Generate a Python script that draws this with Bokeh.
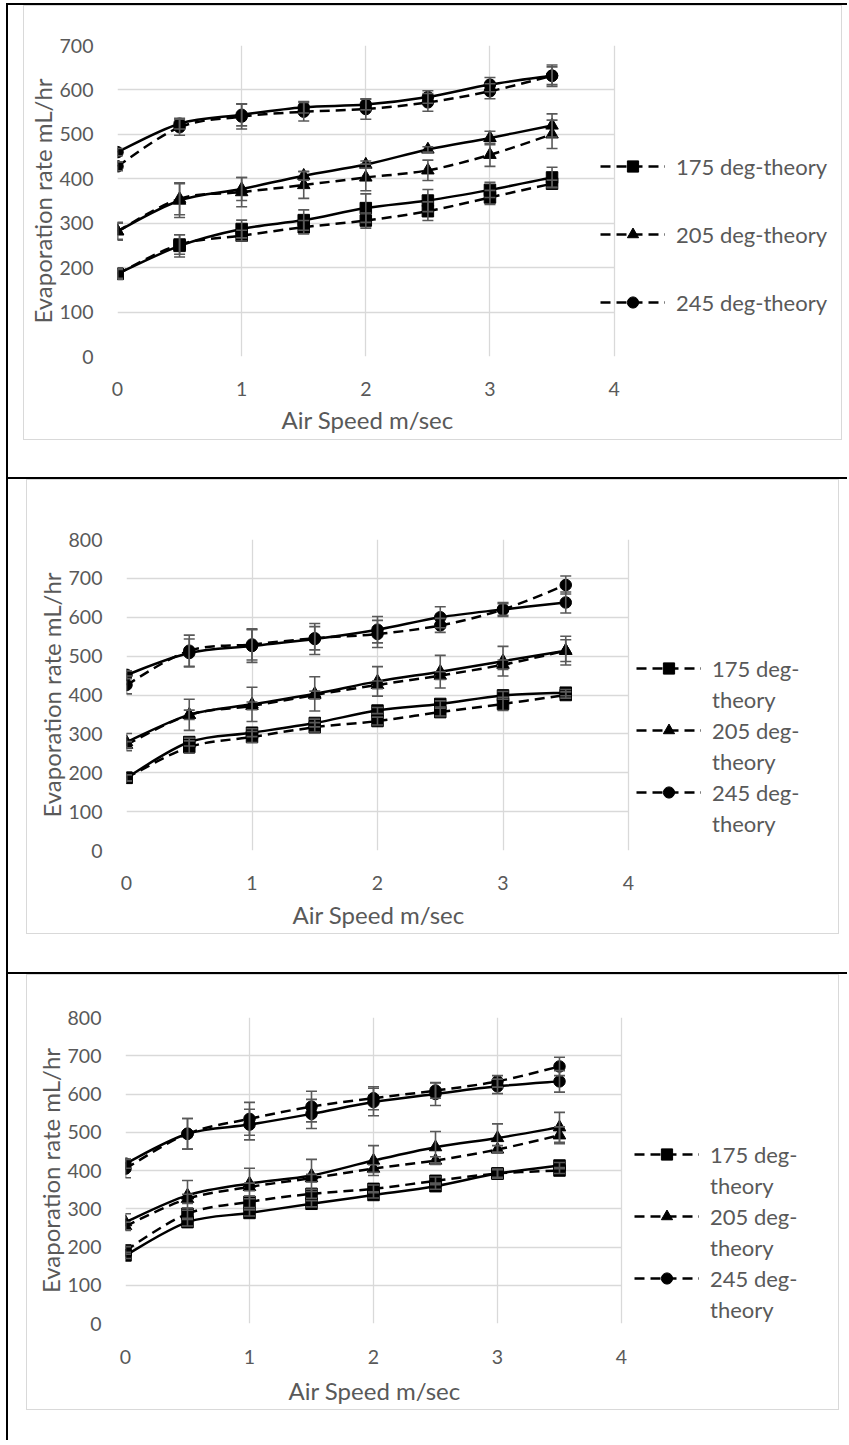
from bokeh.plotting import figure
from bokeh.models import (Range1d, FixedTicker, Legend, LegendItem, Whisker, TeeHead,
                          ColumnDataSource, Column, Title)
from bokeh.embed import file_html
from bokeh.resources import INLINE

# ---------------- data ----------------
speed = [0, 0.5, 1, 1.5, 2, 2.5, 3, 3.5]
x_ticks = [0, 1, 2, 3, 4]
x_max = 4
y_max = [700, 800, 800]
x_title = "Air Speed m/sec"
y_title = "Evaporation rate mL/hr"
legend_labels = [
    [["175 deg-theory"], ["205 deg-theory"], ["245 deg-theory"]],
    [["175 deg-", "theory"], ["205 deg-", "theory"], ["245 deg-", "theory"]],
    [["175 deg-", "theory"], ["205 deg-", "theory"], ["245 deg-", "theory"]],
]

# panel 1
p1_175_exp = [186, 249, 287, 307, 334, 351, 375, 403]
p1_175_thy = [186, 252, 272, 291, 306, 327, 358, 389]
p1_205_exp = [282, 351, 377, 407, 432, 466, 492, 520]
p1_205_thy = [282, 355, 370, 386, 403, 419, 454, 500]
p1_245_exp = [460, 524, 544, 561, 567, 584, 612, 632]
p1_245_thy = [428, 516, 540, 551, 557, 572, 597, 632]
p1_175_exp_err = [12, 25, 20, 23, 32, 25, 17, 23]
p1_175_thy_err = [10, 22, 12, 15, 17, 21, 16, 8]
p1_205_exp_err = [20, 38, 26, 10, 8, 6, 15, 26]
p1_205_thy_err = [18, 36, 33, 30, 30, 23, 26, 32]
p1_245_exp_err = [8, 12, 25, 13, 12, 14, 16, 24]
p1_245_thy_err = [10, 18, 28, 21, 23, 20, 17, 20]

# panel 2
p2_175_exp = [187, 279, 303, 328, 360, 377, 399, 406]
p2_175_thy = [187, 266, 292, 317, 333, 356, 377, 400]
p2_205_exp = [279, 349, 376, 403, 435, 460, 487, 514]
p2_205_thy = [272, 349, 372, 400, 426, 450, 478, 514]
p2_245_exp = [452, 508, 526, 544, 568, 600, 620, 638]
p2_245_thy = [426, 514, 530, 546, 557, 579, 620, 683]
p2_175_exp_err = [8, 10, 10, 10, 8, 8, 10, 8]
p2_175_thy_err = [8, 16, 14, 12, 10, 10, 17, 8]
p2_205_exp_err = [22, 40, 44, 44, 38, 42, 38, 37]
p2_205_thy_err = [8, 12, 10, 10, 10, 10, 12, 28]
p2_245_exp_err = [10, 36, 42, 40, 34, 27, 18, 27]
p2_245_thy_err = [23, 40, 40, 30, 35, 18, 15, 23]

# panel 3
p3_175_exp = [178, 265, 289, 313, 336, 359, 392, 413]
p3_175_thy = [191, 287, 318, 339, 352, 373, 392, 400]
p3_205_exp = [265, 335, 366, 387, 426, 461, 485, 513]
p3_205_thy = [255, 326, 357, 380, 405, 426, 455, 492]
p3_245_exp = [418, 496, 520, 548, 579, 600, 620, 633]
p3_245_thy = [405, 496, 535, 567, 589, 609, 633, 672]
p3_175_exp_err = [8, 10, 8, 8, 8, 8, 10, 8]
p3_175_thy_err = [10, 15, 15, 12, 10, 10, 12, 8]
p3_205_exp_err = [22, 39, 40, 42, 39, 41, 37, 39]
p3_205_thy_err = [10, 12, 10, 10, 10, 10, 10, 22]
p3_245_exp_err = [12, 40, 40, 38, 36, 30, 19, 28]
p3_245_thy_err = [24, 40, 43, 40, 30, 20, 15, 24]

panels_data = [
    [(p1_175_exp, p1_175_exp_err, p1_175_thy, p1_175_thy_err, "square"),
     (p1_205_exp, p1_205_exp_err, p1_205_thy, p1_205_thy_err, "triangle"),
     (p1_245_exp, p1_245_exp_err, p1_245_thy, p1_245_thy_err, "circle")],
    [(p2_175_exp, p2_175_exp_err, p2_175_thy, p2_175_thy_err, "square"),
     (p2_205_exp, p2_205_exp_err, p2_205_thy, p2_205_thy_err, "triangle"),
     (p2_245_exp, p2_245_exp_err, p2_245_thy, p2_245_thy_err, "circle")],
    [(p3_175_exp, p3_175_exp_err, p3_175_thy, p3_175_thy_err, "square"),
     (p3_205_exp, p3_205_exp_err, p3_205_thy, p3_205_thy_err, "triangle"),
     (p3_245_exp, p3_245_exp_err, p3_245_thy, p3_245_thy_err, "circle")],
]

# ---------------- layout / style ----------------
FONT = "Lato"
TXT = "#595959"
GRID = "#d9d9d9"
TITLE_HALF_W = 85
# per panel: chart-area box size, frame offsets, width of the 0..4 span (fw),
# extended frame width (fe, holds the legend), css margins, legend placement
layout = [
    dict(w=819, h=435, fl=91, ft=39, fw=498, fe=723, fh=311, ml=15, mr=5, mb=37,
         leg=(483, 40), sp=40, tso=9, xso=25),
    dict(w=813, h=455, fl=99, ft=59, fw=502, fe=709, fh=311, ml=18, mr=8, mb=38,
         leg=(510, 13), sp=3, tso=11, xso=25),
    dict(w=813, h=436, fl=98, ft=42, fw=496, fe=710, fh=306, ml=18, mr=8, mb=30,
         leg=(509, 0), sp=3, tso=14, xso=26),
]


def smooth_segments(xs, ys):
    X = [xs[0]] + list(xs) + [xs[-1]]
    Y = [ys[0]] + list(ys) + [ys[-1]]
    d = dict(x0=[], y0=[], x1=[], y1=[], cx0=[], cy0=[], cx1=[], cy1=[])
    for i in range(len(xs) - 1):
        d["x0"].append(X[i + 1]); d["y0"].append(Y[i + 1])
        d["x1"].append(X[i + 2]); d["y1"].append(Y[i + 2])
        d["cx0"].append(X[i + 1] + (X[i + 2] - X[i]) / 6.0)
        d["cy0"].append(Y[i + 1] + (Y[i + 2] - Y[i]) / 6.0)
        d["cx1"].append(X[i + 2] - (X[i + 3] - X[i + 1]) / 6.0)
        d["cy1"].append(Y[i + 2] - (Y[i + 3] - Y[i + 1]) / 6.0)
    return d


cells = []
for k in range(3):
    L = layout[k]
    x_end = x_max * L["fe"] / L["fw"]
    p = figure(width=L["w"], height=L["h"], output_backend="svg", toolbar_location=None,
               x_range=Range1d(0, x_end), y_range=Range1d(0, y_max[k]),
               min_border_left=L["fl"], min_border_top=L["ft"],
               min_border_right=L["w"] - L["fl"] - L["fe"],
               min_border_bottom=L["h"] - L["ft"] - L["fh"],
               styles={"border": "1px solid #d9d9d9",
                       "margin-left": "%dpx" % L["ml"],
                       "margin-right": "%dpx" % L["mr"],
                       "margin-bottom": "%dpx" % L["mb"]})
    p.outline_line_color = None
    p.xaxis.ticker = FixedTicker(ticks=x_ticks)
    p.yaxis.ticker = FixedTicker(ticks=list(range(0, y_max[k] + 1, 100)))
    p.xaxis.bounds = (0, x_max)
    p.xgrid.grid_line_color = GRID
    p.ygrid.grid_line_color = GRID
    p.xgrid.grid_line_width = 1.3
    p.ygrid.grid_line_width = 1.3
    p.ygrid.cross_bounds = (0, x_max)
    for ax in (p.xaxis[0], p.yaxis[0]):
        ax.axis_line_color = None
        ax.major_tick_line_color = None
        ax.minor_tick_line_color = None
        ax.major_tick_out = 0
        ax.major_tick_in = 0
        ax.major_label_text_font = FONT
        ax.major_label_text_font_size = "19.5px"
        ax.major_label_text_color = TXT
        ax.axis_label_text_font = FONT
        ax.axis_label_text_font_size = "24px"
        ax.axis_label_text_font_style = "normal"
        ax.axis_label_text_color = TXT
    p.yaxis.axis_label = y_title
    p.xaxis.major_label_standoff = L["xso"]
    p.yaxis.major_label_standoff = 24
    p.yaxis.axis_label_standoff = 0
    # x-axis title, centred under the 0..4 span (the frame also holds the legend)
    p.add_layout(Title(text=x_title, align="left", offset=L["fw"] / 2 - TITLE_HALF_W,
                       standoff=L["tso"], text_font=FONT, text_font_size="24px",
                       text_font_style="normal", text_color=TXT), "below")

    blank = p.scatter(x=[], y=[], marker="square", fill_alpha=0, line_alpha=0)
    items = []
    for (exp, exp_err, thy, thy_err, mk), labs in zip(panels_data[k], legend_labels[k]):
        for vals, errs, dash in ((exp, exp_err, "solid"), (thy, thy_err, "10 6")):
            src = ColumnDataSource(dict(x=speed, y=vals,
                                        up=[v + e for v, e in zip(vals, errs)],
                                        lo=[v - e for v, e in zip(vals, errs)]))
            p.add_layout(Whisker(source=src, base="x", upper="up", lower="lo",
                                 line_color=TXT, line_width=1.6, level="glyph",
                                 upper_head=TeeHead(size=11, line_color=TXT, line_width=1.6),
                                 lower_head=TeeHead(size=11, line_color=TXT, line_width=1.6)))
            bz = p.bezier(x0="x0", y0="y0", x1="x1", y1="y1", cx0="cx0", cy0="cy0",
                          cx1="cx1", cy1="cy1", source=ColumnDataSource(smooth_segments(speed, vals)),
                          line_color="black", line_width=2.5, line_dash=dash)
            sc = p.scatter("x", "y", source=src, marker=mk, size=11.5 if mk != "triangle" else 12.5,
                           fill_color="black", line_color="black")
            if dash != "solid":
                items.append(LegendItem(label=labs[0], renderers=[bz, sc]))
                for extra in labs[1:]:
                    items.append(LegendItem(label=extra, renderers=[blank]))
    leg = Legend(items=items, location=L["leg"], border_line_color=None,
                 background_fill_alpha=0, padding=0, margin=0, spacing=L["sp"],
                 glyph_width=65, glyph_height=28, label_height=28, label_standoff=11,
                 label_text_font=FONT, label_text_font_size="22px", label_text_color=TXT)
    p.add_layout(leg, "center")

    cell = Column(children=[p], styles={"border-top": "2px solid black",
                                        "border-left": "2px solid black",
                                        "margin-left": "6px",
                                        "margin-top": "3px" if k == 0 else "0px"})
    cells.append(cell)

page = Column(children=cells)
open("out.html", "w").write(file_html(page, INLINE))
